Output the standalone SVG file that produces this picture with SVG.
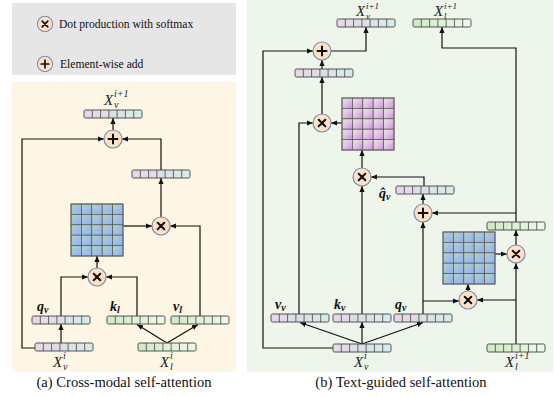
<svg xmlns="http://www.w3.org/2000/svg" xmlns:xlink="http://www.w3.org/1999/xlink" width="554" height="396" viewBox="0 0 554 396">
<style>
.ln{fill:none;stroke:#111;stroke-width:1.2}
.ar{marker-end:url(#ah)}
.cap{font-family:"Liberation Serif","Times New Roman",serif;font-size:14.6px;fill:#111}
.leg{font-family:"Liberation Serif","Times New Roman",serif;font-size:11.6px;fill:#111}
.mx{font-family:"Liberation Serif","Times New Roman",serif;font-style:italic;font-size:15px;fill:#222}
.bq{font-family:"Liberation Serif","Times New Roman",serif;font-style:italic;font-weight:bold;font-size:14px;fill:#111}
.sub{font-size:10px}
.sm{font-size:9px}
.cir{fill:#fde1c6;stroke:#7d8aa8;stroke-width:1.2}
.sym{stroke:#111;stroke-width:2;stroke-linecap:round;fill:none}
.cell{stroke:#555;stroke-width:0.7}
</style>
<defs>
<marker id="ah" markerUnits="userSpaceOnUse" markerWidth="6" markerHeight="6" refX="6" refY="3" orient="auto"><path d="M0,0.4 L6,3 L0,5.6 z" fill="#111"/></marker>
<linearGradient id="gp" x1="0" y1="0" x2="1" y2="0"><stop offset="0" stop-color="#e9d6ea"/><stop offset="0.5" stop-color="#dcdfe6"/><stop offset="1" stop-color="#d4eeea"/></linearGradient>
<linearGradient id="gg" x1="0" y1="0" x2="1" y2="0"><stop offset="0" stop-color="#cfe9c4"/><stop offset="1" stop-color="#eef8ea"/></linearGradient>
<linearGradient id="gb" x1="0" y1="0" x2="1" y2="1"><stop offset="0" stop-color="#b6dca6"/><stop offset="0.5" stop-color="#a0bfe6"/><stop offset="1" stop-color="#94b0f2"/></linearGradient>
<linearGradient id="gv" x1="0" y1="0" x2="1" y2="1"><stop offset="0" stop-color="#e2ecd2"/><stop offset="0.5" stop-color="#e0c2e4"/><stop offset="1" stop-color="#cf88de"/></linearGradient>
<g id="vp"><rect width="58" height="8" rx="1.5" fill="url(#gp)" stroke="#444" stroke-width="0.9"/><path d="M8.3,0V8M16.6,0V8M24.9,0V8M33.1,0V8M41.4,0V8M49.7,0V8" stroke="#444" stroke-width="0.8"/></g>
<g id="vg"><rect width="58" height="8" rx="1.5" fill="url(#gg)" stroke="#444" stroke-width="0.9"/><path d="M8.3,0V8M16.6,0V8M24.9,0V8M33.1,0V8M41.4,0V8M49.7,0V8" stroke="#444" stroke-width="0.8"/></g>
<g id="row"><rect class="cell" x="0" width="10.4" height="10.4"/><rect class="cell" x="10.4" width="10.4" height="10.4"/><rect class="cell" x="20.8" width="10.4" height="10.4"/><rect class="cell" x="31.2" width="10.4" height="10.4"/><rect class="cell" x="41.6" width="10.4" height="10.4"/></g>
<g id="mat"><use xlink:href="#row" y="0"/><use xlink:href="#row" y="10.4"/><use xlink:href="#row" y="20.8"/><use xlink:href="#row" y="31.2"/><use xlink:href="#row" y="41.6"/><rect width="52" height="52" fill="none" stroke="#666" stroke-width="1"/></g>
<g id="mul"><circle class="cir" r="9"/><path class="sym" d="M-3.3,-3.3L3.3,3.3M-3.3,3.3L3.3,-3.3"/></g>
<g id="add"><circle class="cir" r="9"/><path class="sym" d="M-4.5,0H4.5M0,-4.5V4.5"/></g>
</defs>

<g id="legend">
<rect x="12" y="3" width="224" height="72" fill="#e6e6e6"/>
<use xlink:href="#mul" transform="translate(45,24) scale(0.85)"/>
<text class="leg" x="59" y="28">Dot production with softmax</text>
<use xlink:href="#add" transform="translate(45,64) scale(0.85)"/>
<text class="leg" x="60" y="68">Element-wise add</text>
</g>

<g id="panel-a">
<rect x="12" y="82" width="224" height="290" fill="#fdf6e4"/>
<text class="cap" x="124" y="387" text-anchor="middle">(a) Cross-modal self-attention</text>
</g>
<g id="panel-b">
<rect x="247" y="0" width="306" height="372" fill="#eef5ea"/>
<text class="cap" x="401" y="387" text-anchor="middle">(b) Text-guided self-attention</text>
</g>

<g id="connectors">
<path class="ln ar" d="M61,343V324"/>
<path class="ln ar" d="M167,343L137,324.5"/>
<path class="ln ar" d="M167,343L198,324.5"/>
<path class="ln ar" d="M61,316V277H88"/>
<path class="ln ar" d="M137,316V277H106"/>
<path class="ln ar" d="M97,268V256"/>
<path class="ln ar" d="M123,226H152"/>
<path class="ln ar" d="M200,316V226H170"/>
<path class="ln ar" d="M161,217V178"/>
<path class="ln ar" d="M161,170V139H122"/>
<path class="ln ar" d="M113,130V118"/>
<path class="ln ar" d="M35,348H22V139H104"/>
<path class="ln ar" d="M362,344L300,322.5"/>
<path class="ln ar" d="M362,344V322"/>
<path class="ln ar" d="M362,344L423,322.5"/>
<path class="ln ar" d="M333,348H263V51H313"/>
<path class="ln ar" d="M299,314V123H313"/>
<path class="ln ar" d="M342,123H331"/>
<path class="ln ar" d="M322,114V77"/>
<path class="ln ar" d="M322,69V60"/>
<path class="ln ar" d="M331,51H366V27"/>
<path class="ln ar" d="M362,314V186"/>
<path class="ln ar" d="M362,168V150"/>
<path class="ln ar" d="M424,186V177H371"/>
<path class="ln ar" d="M423,204V194"/>
<path class="ln ar" d="M423,314V222"/>
<path class="ln ar" d="M423,301H459"/>
<path class="ln ar" d="M468,291V284"/>
<path class="ln ar" d="M495,254H507"/>
<path class="ln ar" d="M516,344V263"/>
<path class="ln ar" d="M516,300H477"/>
<path class="ln ar" d="M516,245V230"/>
<path class="ln ar" d="M516,222V213H432"/>
<path class="ln ar" d="M516,213V48H442V27"/>
</g>

<g id="a-xv-out"><use xlink:href="#vp" x="84" y="110"/><text class="mx" x="104" y="105">X</text><text class="mx sub" x="114" y="108">v</text><text class="mx sub" x="114" y="97">i+1</text></g>
<g id="a-add"><use xlink:href="#add" x="113" y="139"/></g>
<g id="a-attn-out"><use xlink:href="#vp" x="132" y="170"/></g>
<g id="a-mul2"><use xlink:href="#mul" x="161" y="226"/></g>
<g id="a-matrix"><use xlink:href="#mat" x="71" y="204" fill="url(#gb)"/></g>
<g id="a-mul1"><use xlink:href="#mul" x="97" y="277"/></g>
<g id="a-qv"><use xlink:href="#vp" x="32" y="316"/><text class="bq" x="37" y="311">q<tspan class="sub" dy="1.5">v</tspan></text></g>
<g id="a-kl"><use xlink:href="#vg" x="107" y="316"/><text class="bq" x="110" y="311">k<tspan class="sub" dy="1.5">l</tspan></text></g>
<g id="a-vl"><use xlink:href="#vg" x="171" y="316"/><text class="bq" x="173" y="311">v<tspan class="sub" dy="1.5">l</tspan></text></g>
<g id="a-xv-in"><use xlink:href="#vp" x="35" y="343"/><text class="mx" x="53" y="367">X</text><text class="mx sub" x="63" y="370">v</text><text class="mx sub" x="63" y="359">i</text></g>
<g id="a-xl-in"><use xlink:href="#vg" x="138" y="343"/><text class="mx" x="160" y="367">X</text><text class="mx sub" x="170" y="370">l</text><text class="mx sub" x="170" y="359">i</text></g>

<g id="b-xv-out"><use xlink:href="#vp" x="337" y="19"/><text class="mx" x="356" y="16">X</text><text class="mx sm" x="366" y="19">v</text><text class="mx sm" x="366" y="8.6">i+1</text></g>
<g id="b-xl-out"><use xlink:href="#vg" x="413" y="19"/><text class="mx" x="434" y="16">X</text><text class="mx sm" x="444" y="19">l</text><text class="mx sm" x="444" y="8.6">i+1</text></g>
<g id="b-add-top"><use xlink:href="#add" x="322" y="51"/></g>
<g id="b-attn-out"><use xlink:href="#vp" x="295" y="69"/></g>
<g id="b-mul-top"><use xlink:href="#mul" x="322" y="123"/></g>
<g id="b-matrix-v"><use xlink:href="#mat" x="342" y="98" fill="url(#gv)"/></g>
<g id="b-mul-mid"><use xlink:href="#mul" x="362" y="177"/></g>
<g id="b-qhat"><use xlink:href="#vp" x="396" y="186"/><text class="bq" x="379" y="198">q&#x302;<tspan class="sub" dy="1.5">v</tspan></text></g>
<g id="b-add-mid"><use xlink:href="#add" x="423" y="213"/></g>
<g id="b-text-out"><use xlink:href="#vg" x="487" y="222"/></g>
<g id="b-mul-right"><use xlink:href="#mul" x="516" y="254"/></g>
<g id="b-matrix-b"><use xlink:href="#mat" x="443" y="232" fill="url(#gb)"/></g>
<g id="b-mul-low"><use xlink:href="#mul" x="468" y="300"/></g>
<g id="b-vv"><use xlink:href="#vp" x="271" y="314"/><text class="bq" x="275" y="309">v<tspan class="sub" dy="1.5">v</tspan></text></g>
<g id="b-kv"><use xlink:href="#vp" x="333" y="314"/><text class="bq" x="334" y="309">k<tspan class="sub" dy="1.5">v</tspan></text></g>
<g id="b-qv"><use xlink:href="#vp" x="394" y="314"/><text class="bq" x="395" y="309">q<tspan class="sub" dy="1.5">v</tspan></text></g>
<g id="b-xv-in"><use xlink:href="#vp" x="333" y="344"/><text class="mx" x="354" y="367">X</text><text class="mx sub" x="364" y="370">v</text><text class="mx sub" x="364" y="359">i</text></g>
<g id="b-xl-in"><use xlink:href="#vg" x="487" y="344"/><text class="mx" x="505" y="367">X</text><text class="mx sub" x="515" y="370">l</text><text class="mx sub" x="515" y="359">i+1</text></g>
</svg>
